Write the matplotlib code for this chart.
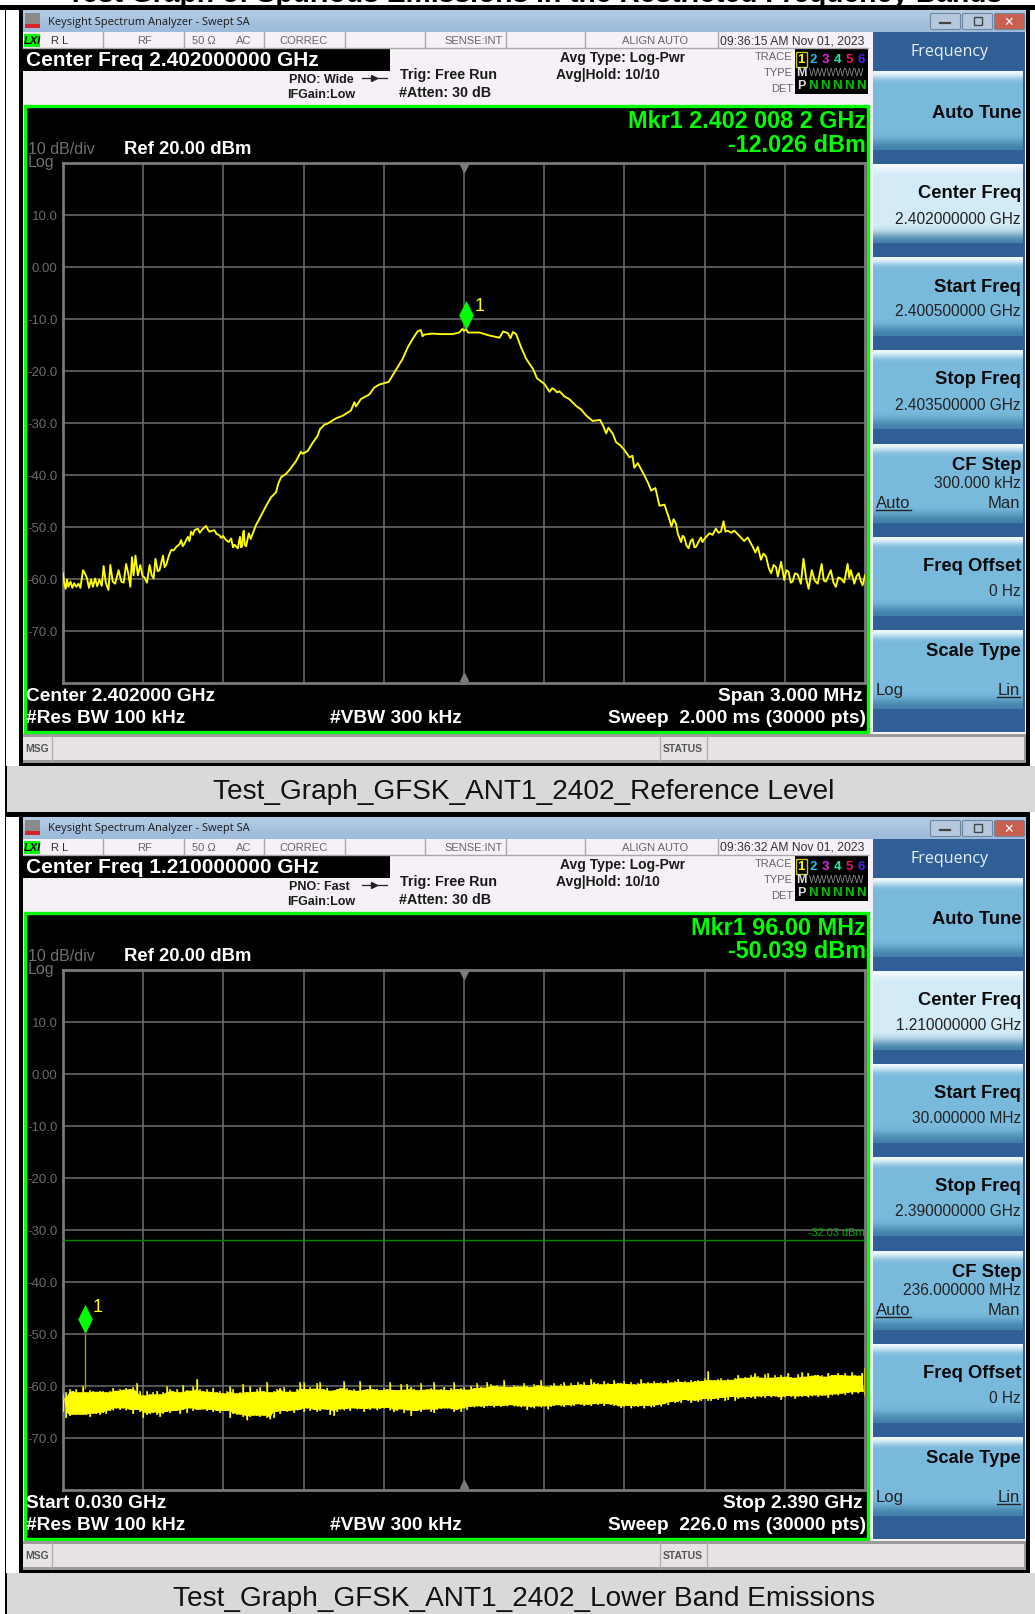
import numpy as np
import matplotlib
matplotlib.use('Agg')
import matplotlib.pyplot as plt
from matplotlib.patches import Rectangle, FancyBboxPatch

W, H = 1035, 1615
SHIFT = 807  # second screenshot sits this many pixels below the first

# trace of the first sweep: (kHz above start freq, dBm)
trace_a = [(0,-59),(5,-61),(10,-62),(15,-60.2),(20,-61.6),(28,-60.6),(35,-61.8),(42,-60.9),(50,-61.6),(58,-61),
 (65,-61.8),(75,-58.4),(82,-59),(90,-60),(97,-61.8),(105,-60.2),(112,-61.6),(120,-60),(128,-61.5),(136,-60.2),
 (145,-61.4),(152,-57.6),(160,-60.8),(170,-62.2),(177,-57.4),(186,-60.6),(195,-61),(208,-58.4),(218,-60.6),(227,-60.8),
 (236,-57.2),(244,-59),(252,-61.6),(258,-55.9),(264,-59.4),(271,-55.6),(280,-59.4),(289,-57.4),(298,-59.6),(305,-59.8),
 (314,-60.8),(324,-57.4),(332,-59.4),(339,-60),(346,-56.2),(354,-58.6),(361,-58.4),(374,-55.6),(380,-57.8),(386,-57.4),
 (396,-55.6),(405,-54.5),(414,-54.6),(424,-53.9),(436,-53.4),(442,-52.6),(448,-53.8),(454,-53.3),(467,-52),(473,-52.8),
 (479,-51),(486,-51.6),(492,-50.7),(504,-50.4),(512,-51.2),(520,-50.6),(535,-49.9),(542,-50.6),(548,-51),(566,-50.7),
 (574,-51.4),(585,-51.7),(592,-52.2),(598,-51.8),(610,-52.6),(620,-53),(629,-52.3),(636,-54),(641,-53.5),(654,-54.2),
 (658,-53),(662,-52),(666,-54),(670,-53.8),(673,-51.5),(676,-50.8),(680,-53.5),(685,-53.8),(695,-51.3),(702,-52.4),
 (710,-51.3),(722,-49.7),(735,-48.5),(748,-47.2),(760,-46),(778,-44.4),(797,-43.4),(805,-41.8),(816,-40.5),(834,-39.9),
 (849,-39),(872,-37.4),(890,-35.6),(896,-36),(915,-35.5),(934,-33.9),(952,-32.6),(961,-31.3),(978,-30.4),(990,-30.2),
 (1002,-29.8),(1021,-29.2),(1046,-28.7),(1077,-27.7),(1090,-26.1),(1096,-26.9),(1114,-25.5),(1146,-24.6),(1164,-23.3),(1183,-22.7),
 (1218,-22.2),(1245,-19.9),(1270,-17.8),(1289,-15.6),(1307,-14),(1326,-12.5),(1338,-12.2),(1345,-13.4),(1351,-13.1),(1382,-12.9),
 (1410,-13),(1432,-13),(1457,-13),(1482,-12.7),(1494,-12),(1500,-12.4),(1508,-12.03),(1515,-12.7),(1559,-12.7),(1590,-13.2),
 (1633,-13.7),(1646,-12.5),(1664,-12.8),(1674,-13.8),(1683,-12.6),(1695,-13),(1714,-15.6),(1733,-17.8),(1758,-19.7),(1773,-21.5),
 (1801,-22.6),(1820,-24.1),(1830,-23.4),(1839,-23.7),(1848,-24.2),(1857,-24),(1876,-25),(1894,-25.5),(1919,-26.8),(1938,-27.5),
 (1956,-28.6),(1981,-29.7),(2009,-29.5),(2020,-30.6),(2032,-32.1),(2040,-31),(2057,-32.2),(2069,-33.8),(2085,-34.4),(2100,-35.3),
 (2119,-36.7),(2130,-36.4),(2137,-38.7),(2150,-37.8),(2175,-40.2),(2190,-41.8),(2200,-43.1),(2216,-42.6),(2231,-46),(2250,-45.8),
 (2268,-48.6),(2276,-50),(2284,-48.6),(2293,-49.5),(2300,-51.4),(2312,-53),(2318,-51.8),(2324,-52.1),(2332,-53.6),(2340,-54.2),
 (2348,-52.8),(2355,-52.4),(2362,-54),(2368,-53.9),(2386,-52.1),(2392,-53),(2399,-52.4),(2418,-51.3),(2430,-51.6),(2442,-50.4),
 (2452,-51.2),(2461,-51),(2471,-49),(2478,-51),(2486,-50.8),(2500,-51.2),(2511,-50.8),(2530,-51.8),(2548,-52.8),(2561,-52.1),
 (2580,-53.9),(2590,-55),(2599,-53.9),(2611,-56.4),(2620,-55.2),(2630,-55.8),(2640,-58),(2649,-59),(2658,-57.4),(2667,-57.8),
 (2674,-59.6),(2686,-56.8),(2698,-60.3),(2706,-58.4),(2714,-58.7),(2722,-60.8),(2729,-60.6),(2738,-59),(2748,-59.2),(2760,-61),
 (2770,-56.2),(2780,-60),(2789,-62),(2801,-58.4),(2812,-60.4),(2823,-61),(2838,-57.2),(2846,-60.4),(2854,-60.6),(2872,-58.4),
 (2882,-60.8),(2891,-61.6),(2900,-59.8),(2910,-60),(2922,-60.8),(2935,-57.2),(2941,-59.8),(2947,-58.4),(2960,-61),(2968,-59.6),
 (2976,-59),(2985,-60.6),(2991,-61.3),(3000,-59.4)]

# envelope of the noise band on the second sweep, 241 samples from stop to stop
upper_b = [-62.4,-61.2,-60.7,-61.1,-60.7,-61.3,-60.1,-61.3,-60.9,-61.1,
 -61.2,-61.0,-61.1,-61.3,-61.1,-60.4,-61.0,-60.6,-60.8,-60.4,
 -60.7,-60.3,-59.6,-61.1,-61.9,-61.1,-61.7,-61.3,-61.0,-61.7,
 -61.3,-60.1,-60.7,-61.1,-60.7,-61.3,-59.9,-60.9,-61.0,-60.1,
 -58.8,-60.7,-61.1,-60.7,-61.2,-60.4,-61.3,-61.1,-61.5,-61.1,
 -60.1,-60.7,-61.5,-61.2,-59.8,-61.3,-60.1,-61.2,-60.7,-60.3,
 -61.1,-59.3,-61.3,-61.1,-60.7,-60.4,-60.3,-61.2,-60.9,-61.2,
 -60.6,-59.4,-59.3,-60.7,-60.3,-60.6,-59.6,-59.4,-60.7,-60.4,
 -61.0,-60.8,-60.6,-60.4,-59.2,-60.5,-60.9,-60.7,-61.0,-59.2,
 -60.8,-60.6,-59.9,-60.7,-60.6,-60.9,-60.5,-60.7,-59.4,-60.8,
 -60.9,-59.7,-60.8,-59.8,-60.2,-60.6,-60.9,-59.6,-60.8,-60.7,
 -60.5,-59.4,-60.8,-60.6,-60.2,-60.9,-60.4,-59.3,-60.7,-60.5,
 -60.3,-60.8,-60.0,-60.5,-59.6,-60.2,-60.4,-59.4,-59.8,-60.1,
 -59.9,-60.2,-58.9,-60.2,-60.3,-59.9,-60.1,-60.2,-59.5,-60.0,
 -60.3,-59.7,-59.9,-58.9,-60.1,-60.2,-59.9,-59.6,-60.1,-59.7,
 -59.4,-60.1,-59.5,-59.9,-59.4,-59.8,-59.3,-59.9,-58.7,-59.4,
 -59.6,-59.8,-59.1,-59.6,-59.7,-59.0,-59.5,-59.6,-59.2,-59.7,
 -59.4,-59.8,-59.5,-58.7,-59.6,-59.4,-59.6,-59.1,-59.5,-59.3,
 -59.6,-59.0,-59.4,-59.2,-58.7,-59.3,-59.1,-59.4,-59.0,-59.2,
 -58.9,-59.1,-58.6,-57.3,-58.9,-59.0,-58.8,-58.6,-59.0,-58.7,
 -58.9,-58.5,-57.9,-58.6,-58.3,-58.5,-58.0,-57.6,-58.2,-58.5,
 -57.8,-57.6,-58.5,-58.0,-58.4,-57.9,-58.3,-57.5,-58.3,-58.5,
 -57.8,-57.4,-58.3,-57.5,-58.1,-57.9,-57.9,-58.0,-58.3,-57.5,
 -57.9,-58.0,-57.5,-58.0,-57.6,-58.1,-57.4,-58.0,-58.1,-57.5,
 -56.7]
lower_b = [-65.1,-66.2,-65.8,-65.7,-65.6,-65.6,-65.7,-65.6,-66.0,-65.4,
 -65.4,-65.6,-65.2,-65.4,-64.9,-64.8,-64.4,-64.7,-64.4,-64.8,
 -64.7,-65.4,-64.7,-65.1,-66.2,-65.6,-65.4,-65.2,-65.6,-66.0,
 -65.4,-65.1,-65.2,-64.9,-64.9,-65.4,-64.7,-65.2,-64.4,-64.9,
 -64.7,-64.7,-64.6,-64.9,-64.7,-65.1,-64.9,-65.2,-64.9,-64.9,
 -66.3,-65.4,-65.7,-65.6,-66.0,-66.7,-66.0,-65.8,-65.8,-66.0,
 -65.8,-66.2,-66.5,-66.2,-65.1,-65.4,-64.9,-65.1,-64.9,-65.2,
 -64.8,-64.7,-65.1,-64.4,-64.9,-64.7,-65.1,-64.9,-64.6,-64.7,
 -65.6,-65.9,-65.0,-64.6,-64.8,-64.5,-64.9,-64.4,-64.6,-64.5,
 -65.1,-64.5,-64.7,-64.4,-64.8,-64.5,-64.4,-64.3,-64.8,-65.0,
 -64.9,-64.6,-65.2,-64.8,-65.9,-64.9,-64.9,-65.0,-64.7,-64.6,
 -65.0,-65.2,-64.7,-64.5,-64.4,-64.4,-64.6,-65.1,-64.7,-65.1,
 -64.4,-64.7,-64.1,-64.2,-64.0,-64.1,-64.3,-64.0,-63.9,-64.2,
 -63.9,-64.1,-63.9,-64.0,-63.8,-64.0,-64.0,-64.2,-64.0,-64.7,
 -64.2,-64.4,-64.0,-64.2,-64.0,-64.6,-64.1,-63.9,-63.8,-64.0,
 -64.1,-63.8,-64.0,-63.9,-63.6,-63.8,-63.9,-63.7,-63.9,-63.6,
 -63.8,-63.5,-63.9,-63.6,-63.7,-63.9,-64.0,-64.3,-64.1,-63.9,
 -64.4,-64.0,-64.1,-63.9,-64.4,-63.9,-64.2,-64.1,-63.8,-64.0,
 -63.6,-63.8,-63.2,-63.4,-63.1,-63.3,-62.8,-63.0,-63.3,-62.9,
 -63.2,-62.9,-62.6,-63.0,-62.9,-62.6,-62.7,-62.4,-62.9,-62.7,
 -62.2,-63.0,-62.6,-62.3,-62.5,-62.2,-62.4,-62.6,-62.1,-62.3,
 -62.4,-62.0,-62.3,-62.1,-62.3,-62.7,-62.3,-62.0,-62.2,-62.6,
 -62.1,-62.2,-62.0,-62.3,-62.1,-61.9,-62.2,-62.0,-61.9,-62.4,
 -61.9,-61.7,-61.9,-61.6,-61.8,-61.4,-61.7,-61.3,-61.5,-61.3,
 -61.2]

db_ticks = [10, 0, -10, -20, -30, -40, -50, -60, -70]
db_labels = ['10.0', '0.00', '-10.0', '-20.0', '-30.0', '-40.0', '-50.0', '-60.0', '-70.0']

mkr_a = (2402.0082, -12.026)
mkr_b = (0.096, -50.039)
limit_b = -32.03

status_cells = [103, 184, 264, 345, 425, 506, 585, 718]
softkey_tops = [72, 165, 258, 351, 445, 538, 631]

FONT = 'Liberation Sans'
GREEN = '#00FF00'
YELLOW = '#FFFF00'
GREY = '#6E6E6E'

fig = plt.figure(figsize=(W / 100, H / 100), dpi=100, facecolor='white')
bg = fig.add_axes([0, 0, 1, 1])
bg.axis('off')


def txt(x, y, s, size=10, color='black', ha='left', weight='normal', family=FONT, **kw):
    bg.text(x, y, s, fontsize=size, color=color, ha=ha, va='center', weight=weight, family=family, **kw)


def box(x0, y0, x1, y1, color, z=1):
    bg.add_patch(Rectangle((x0, y0), x1 - x0, y1 - y0, facecolor=color, edgecolor='none', zorder=z))


def grad(x0, y0, x1, y1, c_top, c_bot, z=2):
    cols = np.array([matplotlib.colors.to_rgb(c_top), matplotlib.colors.to_rgb(c_bot)])
    bg.imshow(cols[:, None, :], extent=(x0, x1, y1, y0), aspect='auto', interpolation='bicubic', zorder=z)


def softkey(top, light=False):
    body = '#D3EAF7' if light else '#79B9DC'
    box(873, top, 1023, top + 79, body, 2)
    grad(873, top, 1023, top + 12, '#F4FAFD', body, 3)
    grad(873, top + 62, 1023, top + 79, body, '#3F7FA8', 3)


def window(dy, center, pno, time_s, keys, caption):
    # frame, title bar and status row
    box(6, dy + 6, 1030, dy + 767, 'black')
    box(6, dy + 11, 19, dy + 767, 'white', 2)
    box(23, dy + 11, 1026, dy + 764, '#F5F1F6', 2)
    grad(23, dy + 11, 1026, dy + 33, '#B3CBE4', '#9DBBDB')
    box(25, dy + 14, 40, dy + 29, '#8A8A8A', 3)
    box(25, dy + 25, 40, dy + 29, '#D8232A', 4)
    txt(48, dy + 22, 'Keysight Spectrum Analyzer - Swept SA', 8, '#1A1A1A', family='Open Sans')
    for x0, c in [(930, '#B5C8DE'), (962, '#B5C8DE'), (994, '#C9604F')]:
        bg.add_patch(FancyBboxPatch((x0 + 2, dy + 16), 27, 13, boxstyle='round,pad=1.5',
                                    facecolor=c, edgecolor='#6F86A0', lw=0.8, zorder=4))
    bg.plot([940, 950], [dy + 23.5, dy + 23.5], color='#444444', lw=1.6, zorder=5)
    bg.add_patch(Rectangle((974, dy + 18), 8, 8, fc='none', ec='#444444', lw=1, zorder=5))
    txt(1008.5, dy + 22, '✕', 9, 'white', ha='center', weight='bold', family='DejaVu Sans', zorder=5)

    box(23, dy + 33, 868, dy + 49, '#F5F1F6', 3)
    bg.plot([23, 868], [dy + 48.5, dy + 48.5], color='#A8A8A8', lw=1, zorder=4)
    for x in status_cells:
        bg.plot([x, x], [dy + 33, dy + 48], color='#A8A8A8', lw=1, zorder=4)
    box(24, dy + 35, 40, dy + 48, GREEN, 4)
    txt(32, dy + 41, 'LXI', 8, 'black', ha='center', weight='bold', style='italic', zorder=5)
    c = '#666666'
    txt(60, dy + 41, 'R L', 8, '#333333', ha='center')
    txt(144, dy + 41, 'RF', 8, c, ha='center')
    txt(204, dy + 41, '50 Ω', 8, c, ha='center')
    txt(244, dy + 41, 'AC', 8, c, ha='center')
    txt(304, dy + 41, 'CORREC', 8, c, ha='center')
    txt(474, dy + 41, 'SENSE:INT', 8, c, ha='center')
    txt(655, dy + 41, 'ALIGN AUTO', 8, c, ha='center')
    txt(792, dy + 41, time_s, 8.7, '#333333', ha='center')

    # measurement bar
    box(23, dy + 49, 390, dy + 72, 'black', 3)
    txt(26, dy + 61, 'Center Freq ' + center + ' GHz', 15, 'white', weight='bold', zorder=5)
    txt(289, dy + 80, 'PNO: ' + pno, 9, '#1A1A1A', weight='bold')
    txt(287, dy + 95, 'IFGain:Low', 9, '#1A1A1A', weight='bold')
    bg.plot([362, 387], [dy + 79, dy + 79], color='#222222', lw=0.9, zorder=4)
    bg.plot([374], [dy + 79], marker='>', ms=5, color='#222222', zorder=5)
    txt(400, dy + 75, 'Trig: Free Run', 10.3, '#1A1A1A', weight='bold')
    txt(399, dy + 93, '#Atten: 30 dB', 10.3, '#1A1A1A', weight='bold')
    txt(560, dy + 58, 'Avg Type: Log-Pwr', 10, '#1A1A1A', weight='bold')
    txt(556, dy + 75, 'Avg|Hold: 10/10', 10, '#1A1A1A', weight='bold')

    txt(792, dy + 57, 'TRACE', 8, c, ha='right')
    txt(793, dy + 73, 'TYPE', 8, c, ha='right')
    txt(793, dy + 89, 'DET', 8, c, ha='right')
    box(795, dy + 50, 868, dy + 95, 'black', 3)
    bg.add_patch(Rectangle((796, dy + 53), 11, 15, fc='none', ec='#C8C800', lw=1, zorder=4))
    for x, n, col in [(801, '1', YELLOW), (813, '2', '#19C5E8'), (825, '3', '#F020E0'),
                      (837, '4', '#20E8B0'), (849, '5', '#F01060'), (861, '6', '#5020F0')]:
        txt(x, dy + 60, n, 9.5, col, ha='center', weight='bold', zorder=5)
    txt(801, dy + 73, 'M', 9, '#DDDDDD', ha='center', weight='bold', zorder=5)
    txt(837, dy + 73, 'WWWWWW', 7, '#8A8A8A', ha='center', zorder=5)
    txt(801, dy + 86, 'P', 9, '#DDDDDD', ha='center', weight='bold', zorder=5)
    for x in [813, 825, 837, 849, 861]:
        txt(x, dy + 86, 'N', 9.5, '#00C000', ha='center', weight='bold', zorder=5)

    # graticule area with the green border
    bg.add_patch(Rectangle((25, dy + 107), 843, 626, fc='black', ec=GREEN, lw=2.4, zorder=3))
    txt(28, dy + 150, '10 dB/div', 11.5, '#707070', zorder=5)
    txt(28, dy + 163, 'Log', 11.5, '#707070', zorder=5)
    txt(124, dy + 150, 'Ref 20.00 dBm', 13.3, 'white', weight='bold', zorder=5)
    txt(26, dy + 697, keys['start'], 13.8, 'white', weight='bold', zorder=5)
    txt(26, dy + 719, '#Res BW 100 kHz', 13.8, 'white', weight='bold', zorder=5)
    txt(330, dy + 719, '#VBW 300 kHz', 13.8, 'white', weight='bold', zorder=5)
    txt(863, dy + 697, keys['stop'], 13.8, 'white', ha='right', weight='bold', zorder=5)
    txt(866, dy + 719, keys['sweep'], 13.8, 'white', ha='right', weight='bold', zorder=5)
    txt(866, dy + 122, keys['mkr1'], 16.8, GREEN, ha='right', weight='bold', zorder=5)
    txt(866, dy + 145, keys['mkr2'], 16.8, GREEN, ha='right', weight='bold', zorder=5)

    # softkeys
    box(873, dy + 33, 1025, dy + 733, '#2F5F96', 2)
    for i, top in enumerate(softkey_tops):
        softkey(dy + top, light=(i == 1))
    txt(949, dy + 52, 'Frequency', 11.5, '#E8F0F8', ha='center', zorder=5, family='Open Sans')
    ink = '#0A0A0A'
    txt(1021, dy + 113, 'Auto Tune', 13.2, ink, ha='right', weight='bold', zorder=5)
    rows = [(165, 'Center Freq', keys['cf']), (258, 'Start Freq', keys['f0']),
            (351, 'Stop Freq', keys['f1']), (538, 'Freq Offset', '0 Hz')]
    for top, name, val in rows:
        txt(1021, dy + top + 29, name, 13.2, ink, ha='right', weight='bold', zorder=5)
        txt(1021, dy + top + 54, val, 11.2, '#222222', ha='right', zorder=5)
    txt(1021, dy + 466, 'CF Step', 13.2, ink, ha='right', weight='bold', zorder=5)
    txt(1021, dy + 484, keys['step'], 11.2, '#222222', ha='right', zorder=5)
    txt(876, dy + 504, 'Auto', 12, '#222222', zorder=5)
    txt(1020, dy + 504, 'Man', 12, '#222222', ha='right', zorder=5)
    bg.plot([876, 911], [dy + 511, dy + 511], color='#222222', lw=1, zorder=5)
    txt(1021, dy + 652, 'Scale Type', 13.2, ink, ha='right', weight='bold', zorder=5)
    txt(876, dy + 691, 'Log', 12, '#222222', zorder=5)
    txt(1020, dy + 691, 'Lin', 12, '#222222', ha='right', zorder=5)
    bg.plot([997, 1020], [dy + 698, dy + 698], color='#222222', lw=1, zorder=5)

    # message bar
    box(23, dy + 735, 1026, dy + 764, '#9A9A9A', 3)
    box(23, dy + 738, 1024, dy + 761, '#E6E2E6', 4)
    for x in [52, 660, 707]:
        bg.plot([x, x], [dy + 736, dy + 762], color='#B0B0B0', lw=1, zorder=5)
    txt(37, dy + 749, 'MSG', 7.5, '#555555', ha='center', weight='bold', zorder=6)
    txt(683, dy + 749, 'STATUS', 7.5, '#555555', ha='center', weight='bold', zorder=6)

    # caption strip
    bottom = min(dy + 813, H)
    box(7, dy + 767, W, bottom, '#D9D9D9', 5)
    txt(524, dy + 792, caption, 20.2, '#111111', ha='center', zorder=6)


def graticule(dy, x0, x1):
    left, right = 63, 865
    top, bot = dy + 163.5, dy + 683.5
    ax = fig.add_axes([left / W, 1 - bot / H, (right - left) / W, (bot - top) / H], facecolor='black')
    ax.set_xlim(x0, x1)
    ax.set_ylim(-80, 20)
    ax.set_xticks(np.linspace(x0, x1, 11)[1:-1])
    ax.set_yticks(db_ticks)
    ax.set_yticklabels(db_labels, fontsize=9.5, color='#6A6A6A', family=FONT)
    ax.tick_params(length=0, pad=4, labelbottom=False)
    ax.grid(True, color=GREY, lw=1.1)
    ax.set_axisbelow(True)
    for s in ax.spines.values():
        s.set_color('#7A7A7A')
        s.set_linewidth(2)
    mid = (x0 + x1) / 2
    ax.plot([mid], [19], marker='v', ms=6, color='#7A7A7A', clip_on=False, zorder=3)
    ax.plot([mid], [-79], marker='^', ms=6, color='#7A7A7A', clip_on=False, zorder=3)
    return ax


DIAMOND = [(0, -1), (0.5, 0), (0, 1), (-0.5, 0), (0, -1)]

bg.set_xlim(0, W)
bg.set_ylim(H, 0)

# clipped heading of the page above the first screenshot
bg.text(535, 1.5, 'Test Graph of Spurious Emissions in the Restricted Frequency Bands', fontsize=20.3,
        weight='bold', family=FONT, ha='center', va='baseline', color='black', zorder=0)
box(0, 6, W, 11, 'black', 1)
box(5, 6, 7, H, 'black', 1)

window(0, '2.402000000', 'Wide', '09:36:15 AM Nov 01, 2023',
       dict(start='Center 2.402000 GHz', stop='Span 3.000 MHz', sweep='Sweep  2.000 ms (30000 pts)',
            mkr1='Mkr1 2.402 008 2 GHz', mkr2='-12.026 dBm', cf='2.402000000 GHz', f0='2.400500000 GHz',
            f1='2.403500000 GHz', step='300.000 kHz'),
       'Test_Graph_GFSK_ANT1_2402_Reference Level')
window(SHIFT, '1.210000000', 'Fast', '09:36:32 AM Nov 01, 2023',
       dict(start='Start 0.030 GHz', stop='Stop 2.390 GHz', sweep='Sweep  226.0 ms (30000 pts)',
            mkr1='Mkr1 96.00 MHz', mkr2='-50.039 dBm', cf='1.210000000 GHz', f0='30.000000 MHz',
            f1='2.390000000 GHz', step='236.000000 MHz'),
       'Test_Graph_GFSK_ANT1_2402_Lower Band Emissions')
bg.set_xlim(0, W)
bg.set_ylim(H, 0)

# first sweep, narrow span around the carrier
ax1 = graticule(0, 2400.5, 2403.5)
khz, db = np.array(trace_a).T
ax1.plot(2400.5 + khz / 1000, db, color=YELLOW, lw=1.35, zorder=4)
ax1.plot(mkr_a[0], mkr_a[1] + 2.7, marker=DIAMOND, ms=21, color=GREEN, mew=0, zorder=5)
ax1.text(mkr_a[0] + 0.05, mkr_a[1] + 4.5, '1', color=YELLOW, fontsize=13, ha='center', va='center', family=FONT)

# second sweep, lower band: solid core with the envelope samples as narrow spikes
ax2 = graticule(SHIFT, 0.030, 2.390)
ghz = np.linspace(0.030, 2.390, len(upper_b))
up = np.array(upper_b)
low = np.array(lower_b)
core_up = np.minimum.reduce([up, np.roll(up, 1), np.roll(up, -1)])
core_low = np.maximum.reduce([low, np.roll(low, 1), np.roll(low, -1)])
ax2.axhline(limit_b, color='#008A00', lw=1, zorder=3)
ax2.text(2.389, limit_b + 0.5, '-32.03 dBm', color='#00B000', fontsize=7.9, ha='right', va='bottom', family=FONT)
ax2.vlines(ghz, low, up, color='#C8C000', lw=1.3, zorder=4)
ax2.vlines(ghz, low + 0.15, up - 0.15, color=YELLOW, lw=0.9, zorder=4)
ax2.fill_between(ghz, core_low, core_up, facecolor=YELLOW, edgecolor='none', zorder=4)
ax2.plot([mkr_b[0], mkr_b[0]], [mkr_b[1], -60.5], color='#B09A00', lw=1, zorder=4)
ax2.plot(mkr_b[0], mkr_b[1] + 2.8, marker=DIAMOND, ms=21, color=GREEN, mew=0, zorder=5)
ax2.text(mkr_b[0] + 0.036, mkr_b[1] + 5.2, '1', color=YELLOW, fontsize=13, ha='center', va='center', family=FONT)

fig.savefig('out.png', dpi=100)
